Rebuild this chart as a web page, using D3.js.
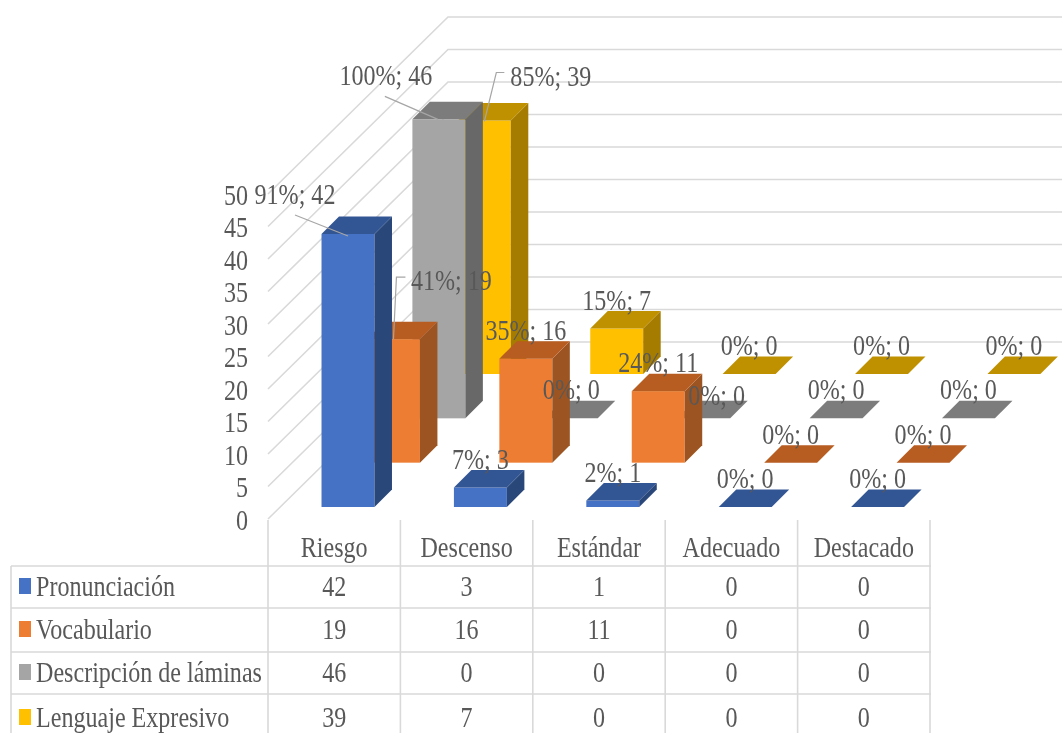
<!DOCTYPE html>
<html>
<head>
<meta charset="utf-8">
<script src="https://cdn.jsdelivr.net/npm/d3@7"></script>
<style>
html, body { margin: 0; padding: 0; background: #fff; overflow: hidden; }
svg { display: block; }
text { font-family: "Liberation Serif", serif; font-size: 28.5px; fill: #595959; }
</style>
</head>
<body>
<script>
var categories = ['Riesgo', 'Descenso', 'Estándar', 'Adecuado', 'Destacado'];
var seriesNames = ['Pronunciación', 'Vocabulario', 'Descripción de láminas', 'Lenguaje Expresivo'];
var pronunciacion = [42, 3, 1, 0, 0];
var vocabulario = [19, 16, 11, 0, 0];
var descripcion = [46, 0, 0, 0, 0];
var lenguaje = [39, 7, 0, 0, 0];
var seriesValues = [pronunciacion, vocabulario, descripcion, lenguaje];
var pctPronunciacion = [91, 7, 2, 0, 0];
var pctVocabulario = [41, 35, 24, 0, 0];
var pctDescripcion = [100, 0, 0, 0, 0];
var pctLenguaje = [85, 15, 0, 0, 0];
var seriesPct = [pctPronunciacion, pctVocabulario, pctDescripcion, pctLenguaje];
var yTicks = [0, 5, 10, 15, 20, 25, 30, 35, 40, 45, 50];

//colours: front, side, top
var colors = [
    ['#4472c4', '#2a4679', '#335593'],
    ['#ed7d31', '#9c5420', '#b85d20'],
    ['#a5a5a5', '#686868', '#7c7c7c'],
    ['#ffc000', '#a67c00', '#bf9000']
];

var W = 1062, H = 733;
var svg = d3.select('body').append('svg')
    .attr('width', W)
    .attr('height', H);

svg.append('filter').attr('id', 'soft')
    .append('feGaussianBlur').attr('stdDeviation', 0.7);

var root = svg.append('g').attr('filter', 'url(#soft)');

//scales
var floorY = 519, left = 269.5, right = 931.5;
var x = d3.scaleBand().domain(d3.range(categories.length)).range([left, right]).paddingInner(0.6).paddingOuter(0.3);
var y = d3.scaleLinear().domain([0, 50]).range([floorY, floorY - 325]);
var z = d3.scalePoint().domain(d3.range(seriesNames.length)).range([12, 145]);
var wallDepth = 177, barDepth = 17.5, skew = 1.025, xSquash = 0.845;

function px(v, d) { return v + d * skew; }
function py(v, d) { return v - d; }
function pts(a) { return a.map(function (p) { return p.join(','); }).join(' '); }

function label(parent, str, tx, ty, anchor) {
    return parent.append('text')
        .attr('transform', 'translate(' + tx + ',' + ty + ') scale(' + xSquash + ',1)')
        .attr('text-anchor', anchor || 'middle')
        .text(str);
}

//walls
var grid = root.append('g').attr('fill', 'none').attr('stroke', '#d9d9d9').attr('stroke-width', 1.6);
grid.selectAll('polyline')
    .data(yTicks)
    .enter()
    .append('polyline')
    .attr('points', function (d) {
        return pts([[left - 1.5, y(d)], [left - 1.5 + 180, py(y(d), wallDepth)], [W, py(y(d), wallDepth)]]);
    });

//bars, back series first
var bars = root.append('g');
d3.range(seriesNames.length).reverse().forEach(function (s) {
    var g = bars.append('g');
    seriesValues[s].forEach(function (v, c) {
        var x0 = px(x(c), z(s)), x1 = x0 + x.bandwidth();
        var base = py(y(0), z(s)), top = py(y(v), z(s));
        var dx = barDepth, dy = barDepth;
        if (v > 0) {
            g.append('rect')
                .attr('x', x0).attr('y', top)
                .attr('width', x.bandwidth()).attr('height', base - top)
                .attr('fill', colors[s][0]);
            g.append('polygon')
                .attr('points', pts([[x1, top], [x1 + dx, top - dy], [x1 + dx, base - dy], [x1, base]]))
                .attr('fill', colors[s][1]);
        }
        g.append('polygon')
            .attr('points', pts([[x0, top], [x0 + dx, top - dy], [x1 + dx, top - dy], [x1, top]]))
            .attr('fill', colors[s][2]);
    });
});

//hand placed labels in the original: [series, category, dx, dy, leader from label]
var moved = {
    '0-0': { dx: -53, dy: -30, leader: [[-53, -19], [0, 2]] },
    '2-0': { dx: -53, dy: -34, leader: [[-54, -23], [-1, 0]] },
    '3-0': { dx: 66.5, dy: -35, leader: [[20, -48], [12, -48], [0, 1]] },
    '1-0': { dx: 58, dy: -49, leader: [[12, -62], [3, -62], [0, 0]] },
    '2-2': { dx: 13, dy: -13 }
};

var labels = root.append('g');
seriesValues.forEach(function (vals, s) {
    vals.forEach(function (v, c) {
        var cx = px(x(c), z(s)) + x.bandwidth() / 2;
        var top = py(y(v), z(s));
        var m = moved[s + '-' + c] || { dx: 0, dy: -19 };
        if (m.leader) {
            labels.append('polyline')
                .attr('points', pts(m.leader.map(function (p) { return [cx + p[0], top + p[1]]; })))
                .attr('fill', 'none')
                .attr('stroke', '#a6a6a6')
                .attr('stroke-width', 1.2);
        }
        label(labels, seriesPct[s][c] + '%; ' + v, cx + m.dx, top + m.dy);
    });
});

//value axis
var axis = root.append('g')
    .attr('transform', 'translate(248,0)')
    .call(d3.axisLeft(y).tickValues(yTicks).tickSize(0).tickPadding(0));
axis.select('.domain').remove();
axis.selectAll('text')
    .attr('x', 0)
    .attr('dy', null)
    .attr('y', 10)
    .attr('transform', 'scale(' + xSquash + ',1)')
    .style('font-family', '"Liberation Serif", serif')
    .style('font-size', '28.5px')
    .attr('text-anchor', 'end');

//data table
var rowLines = [566, 608, 652, 694];
var rowBase = [596, 639, 682, 727];
var table = root.append('g');
var tableLines = table.append('g').attr('stroke', '#d9d9d9').attr('stroke-width', 1.6);
rowLines.forEach(function (ry) {
    tableLines.append('line').attr('x1', 11).attr('x2', 931).attr('y1', ry).attr('y2', ry);
});
tableLines.append('line').attr('x1', 11).attr('x2', 11).attr('y1', rowLines[0]).attr('y2', H);
var columnEdges = d3.range(categories.length).map(function (c) { return x(c) - x.step() * 0.3; }).concat([right]);
columnEdges.forEach(function (ex) {
    tableLines.append('line').attr('x1', ex - 1.5).attr('x2', ex - 1.5).attr('y1', floorY + 1).attr('y2', H);
});

categories.forEach(function (name, c) {
    label(table, name, x(c) + x.bandwidth() / 2 - 1.5, 557);
    seriesValues.forEach(function (vals, s) {
        label(table, vals[c], x(c) + x.bandwidth() / 2 - 1.5, rowBase[s]);
    });
});
seriesNames.forEach(function (name, s) {
    table.append('rect')
        .attr('x', 19).attr('y', rowBase[s] - 18)
        .attr('width', 12).attr('height', 16)
        .attr('fill', colors[s][0]);
    label(table, name, 36, rowBase[s], 'start');
});
</script>
</body>
</html>
